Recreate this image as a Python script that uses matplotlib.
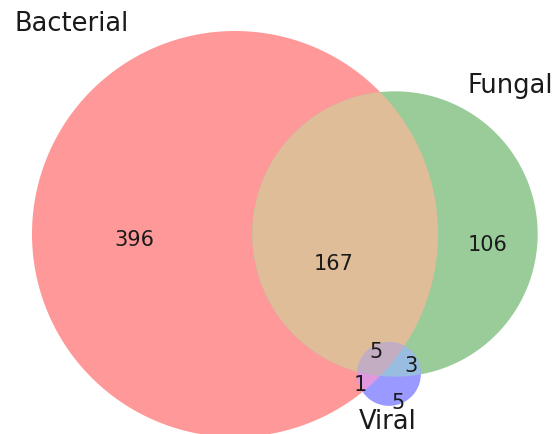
import numpy as np
import matplotlib
matplotlib.use("Agg")
import matplotlib.pyplot as plt
from matplotlib.patches import Polygon

# subset sizes (A=Bacterial, B=Fungal, C=Viral)
set_labels = ["Bacterial", "Fungal", "Viral"]
region_keys = ["100", "010", "001", "110", "101", "011", "111"]
region_values = [396, 106, 5, 167, 1, 3, 5]

base_colors = {"100": (1, 0, 0), "010": (0, 0.5, 0), "001": (0, 0, 1)}

# layout (pixel coords, y down)
W, H = 558, 435
centers = [(235, 235), (395, 235), (389, 375)]
scale = 203 / np.sqrt(569)
label_pos = {"100": (134, 240), "010": (488, 245), "001": (398, 403),
             "110": (334, 264), "101": (360, 385), "011": (411, 366),
             "111": (376, 352)}
set_label_pos = [(72, 24), (510, 86), (388, 422)]

vals = dict(zip(region_keys, region_values))
totals = []
for i in range(3):
    totals.append(sum(v for k, v in vals.items() if k[i] == "1"))
radii = [scale * np.sqrt(t) for t in totals]


def circle_pts(i, n=1440):
    t = np.linspace(0, 2 * np.pi, n, endpoint=False)
    cx, cy = centers[i]
    return np.column_stack([cx + radii[i] * np.cos(t), cy + radii[i] * np.sin(t)])


def inside(p, i):
    cx, cy = centers[i]
    return (p[:, 0] - cx) ** 2 + (p[:, 1] - cy) ** 2 <= radii[i] ** 2 + 1e-9


def intersection(idx):
    pts = []
    for i in idx:
        p = circle_pts(i)
        mask = np.ones(len(p), bool)
        for j in idx:
            if j != i:
                mask &= inside(p, j)
        pts.append(p[mask])
    pts = np.vstack(pts)
    c = pts.mean(axis=0)
    ang = np.arctan2(pts[:, 1] - c[1], pts[:, 0] - c[0])
    return pts[np.argsort(ang)]


def region_color(key):
    cols = [np.array(base_colors[k]) for k, b in zip(["100", "010", "001"], key) if b == "1"]
    if len(cols) == 1:
        c = cols[0]
    elif len(cols) == 2:
        c = 0.7 * (cols[0] + cols[1])
    else:
        c = 0.4 * (cols[0] + cols[1] + cols[2])
    c = np.minimum(c, 1.0)
    return tuple(0.4 * c + 0.6)  # alpha 0.4 on white


fig = plt.figure(figsize=(W / 100, H / 100), dpi=100)
ax = fig.add_axes([0, 0, 1, 1])
ax.set_xlim(0, W)
ax.set_ylim(H, 0)
ax.set_aspect("equal")
ax.axis("off")

draw_order = [("100", [0]), ("010", [1]), ("001", [2]),
              ("110", [0, 1]), ("101", [0, 2]), ("011", [1, 2]), ("111", [0, 1, 2])]
for key, idx in draw_order:
    poly = circle_pts(idx[0]) if len(idx) == 1 else intersection(idx)
    ax.add_patch(Polygon(poly, closed=True, facecolor=region_color(key),
                         edgecolor="none", antialiased=True))

for key in region_keys:
    x, y = label_pos[key]
    ax.text(x, y, str(vals[key]), ha="center", va="center", fontsize=15, color="#1a1a1a")

for lbl, (x, y) in zip(set_labels, set_label_pos):
    ax.text(x, y, lbl, ha="center", va="center", fontsize=18.5, color="#1a1a1a")

fig.savefig("out.png", dpi=100)
